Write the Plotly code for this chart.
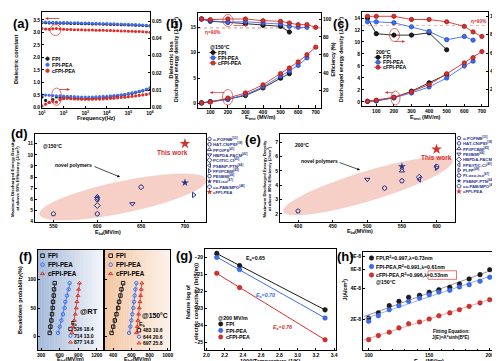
import numpy as np
import plotly.graph_objects as go

W, H = 500, 361
FONT = "Liberation Sans, Arial, Helvetica, sans-serif"
BLK, BLU, RED = "#1c1c1c", "#3e6ef0", "#d8302b"
NAVY = "#26338c"
SERIES = ["FPI", "FPI-PEA", "cFPI-PEA"]

# ---------------- DATA ----------------
# (a) dielectric spectra
freq = [10, 14.7, 21.5, 31.6, 46.4, 68.1, 100, 147, 215, 316, 464, 681,
        1e3, 1.47e3, 2.15e3, 3.16e3, 4.64e3, 6.81e3, 1e4, 1.47e4, 2.15e4,
        3.16e4, 4.64e4, 6.81e4, 1e5, 1.47e5, 2.15e5, 3.16e5, 4.64e5, 6.81e5, 1e6]
eps_fpi = [3.38, 3.38, 3.37, 3.37, 3.37, 3.36, 3.36, 3.36, 3.35, 3.35, 3.35, 3.34, 3.34, 3.34, 3.33, 3.33,
           3.33, 3.32, 3.32, 3.31, 3.31, 3.31, 3.30, 3.30, 3.29, 3.29, 3.28, 3.28, 3.27, 3.26, 3.25]
eps_pea = [3.41, 3.41, 3.40, 3.40, 3.40, 3.39, 3.39, 3.39, 3.38, 3.38, 3.38, 3.37, 3.37, 3.37, 3.36, 3.36,
           3.35, 3.35, 3.35, 3.34, 3.34, 3.33, 3.33, 3.32, 3.32, 3.31, 3.31, 3.30, 3.29, 3.28, 3.27]
eps_cfpi = [3.15, 3.13, 3.12, 3.14, 3.15, 3.13, 3.12, 3.11, 3.11, 3.10, 3.10, 3.10, 3.09, 3.09, 3.09, 3.08,
            3.08, 3.08, 3.07, 3.07, 3.06, 3.06, 3.05, 3.05, 3.04, 3.04, 3.03, 3.03, 3.02, 3.01, 3.00]
loss_fpi = [0.0060, 0.0040, 0.0028, 0.0045, 0.0060, 0.0055, 0.0058, 0.0056, 0.0054, 0.0053, 0.0052, 0.0051,
            0.0051, 0.0051, 0.0052, 0.0053, 0.0054, 0.0056, 0.0058, 0.0060, 0.0063, 0.0066, 0.0069, 0.0073,
            0.0077, 0.0081, 0.0086, 0.0091, 0.0096, 0.0102, 0.0108]
loss_pea = [0.0072, 0.0071, 0.0070, 0.0068, 0.0067, 0.0066, 0.0065, 0.0064, 0.0063, 0.0062, 0.0061, 0.0060,
            0.0060, 0.0060, 0.0060, 0.0061, 0.0062, 0.0063, 0.0064, 0.0066, 0.0068, 0.0070, 0.0073, 0.0076,
            0.0080, 0.0084, 0.0088, 0.0093, 0.0099, 0.0106, 0.0114]
loss_cfpi = [0.0008, 0.0018, 0.0028, 0.0035, 0.0030, 0.0045, 0.0050, 0.0052, 0.0050, 0.0049, 0.0048, 0.0047,
             0.0047, 0.0047, 0.0047, 0.0048, 0.0048, 0.0049, 0.0050, 0.0052, 0.0053, 0.0055, 0.0057, 0.0059,
             0.0061, 0.0064, 0.0066, 0.0069, 0.0072, 0.0075, 0.0079]

# (b) 150 C energy storage
b_E_fpi = [50, 100, 200, 300, 400, 500, 550]
b_U_fpi = [0.15, 0.4, 0.9, 1.6, 3.1, 5.0, 5.9]
b_eta_fpi = [100, 97.4, 96.3, 94.8, 92.9, 91.8, 85.5]
b_E_pea = [50, 100, 200, 300, 400, 500, 550, 600, 650]
b_U_pea = [0.15, 0.4, 0.8, 1.8, 3.3, 5.4, 6.4, 7.5, 9.0]
b_eta_pea = [100, 98, 96.5, 97, 95.5, 94.4, 91.8, 90.7, 90.7]
b_E_cfpi = [50, 100, 200, 300, 400, 500, 550, 600, 650, 700]
b_U_cfpi = [0.15, 0.3, 1.1, 2.1, 3.7, 5.9, 7.0, 8.2, 9.6, 11.1]
b_eta_cfpi = [100, 99.3, 100, 100, 98.1, 97.4, 95.5, 93.7, 93.7, 90.7]

# (c) 200 C energy storage
c_E_fpi = [50, 100, 200, 300, 400, 500]
c_U_fpi = [0.1, 0.2, 0.7, 1.8, 3.2, 4.6]
c_eta_fpi = [98, 81, 79.5, 79.5, 82, 63.5]
c_E_pea = [50, 100, 200, 300, 400, 500, 600, 650]
c_U_pea = [0.1, 0.2, 0.7, 1.5, 2.5, 4.0, 6.0, 6.8]
c_eta_pea = [94, 94, 93, 88.5, 83.5, 74.5, 78, 74]
c_E_cfpi = [50, 100, 200, 300, 400, 500, 600, 650, 700]
c_U_cfpi = [0.1, 0.3, 0.8, 1.7, 2.9, 4.7, 6.5, 7.4, 8.4]
c_eta_cfpi = [100, 100, 100, 96.5, 96.5, 94, 89, 83, 78]
eta_ref = 90

# (d) comparison at 150 C
d_names = ["o-POFNB<sup>[33]</sup>", "HAT-CN/PEI<sup>[38]</sup>", "PPO/PS<sup>[41]</sup>",
           "HBPDA-PACM<sup>[42]</sup>", "PC/ITIC-Cl<sup>[43]</sup>", "PSBNP-PTN<sup>[44]</sup>",
           "FPI/PCBM<sup>[45]</sup>", "PEI/BMI<sup>[46]</sup>", "PEI-iso<sup>[47]</sup>",
           "co-PAB/MPO<sup>[48]</sup>", "cFPI-PEA"]
d_E = [550, 600, 600, 640, 600, 600, 710, 600, 700, 650, 700]
d_U = [4.7, 4.7, 6.25, 5.6, 5.45, 6.1, 6.4, 6.0, 7.5, 7.1, 11.0]

# (e) comparison at 200 C
e_names = ["o-POFNB<sup>[33]</sup>", "HAT-CN/PEI<sup>[38]</sup>", "FPI/PCBM<sup>[45]</sup>",
           "PEI/BMI<sup>[46]</sup>", "HBPDA-PACM<sup>[42]</sup>", "FPE/ITIC-Cl<sup>[43]</sup>",
           "PI-FP<sup>[49]</sup>", "PI-oxo-iso<sup>[47]</sup>", "PSBNP-PTN<sup>[44]</sup>",
           "co-PAB/MPO<sup>[48]</sup>", "cFPI-PEA"]
e_E = [400, 525, 550, 500, 575, 575, 600, 550, 550, 600, 600]
e_U = [2.2, 3.8, 5.0, 4.4, 4.55, 4.4, 5.2, 4.3, 5.3, 5.3, 6.5]

# (f) Weibull breakdown
f_prob = [6, 17, 28, 39, 50, 61, 72, 83, 94]
f_rt = {"FPI": [439, 450, 466, 477, 487, 493, 504, 509, 520],
        "FPI-PEA": [573, 600, 627, 654, 680, 691, 718, 745, 761],
        "cFPI-PEA": [798, 814, 836, 852, 868, 879, 895, 905, 921]}
f_ht = {"FPI": [382, 400, 418, 436, 455, 465, 480, 491, 509],
        "FPI-PEA": [575, 589, 600, 611, 622, 629, 636, 644, 655],
        "cFPI-PEA": [655, 665, 673, 680, 687, 695, 702, 709, 716]}
f_rt_Eb, f_rt_beta = [526, 714, 877], [18.4, 13.0, 14.8]
f_ht_Eb, f_ht_beta = [483, 644, 697], [10.6, 20.6, 25.8]

# (g) Arrhenius conduction
g_x = [2.114, 2.364, 3.300]
g_y = {"FPI": [-19.77, -20.49, -23.09],
       "FPI-PEA": [-20.0, -20.72, -23.57],
       "cFPI-PEA": [-20.94, -21.78, -24.85]}
g_Ea = [0.65, 0.70, 0.76]

# (h) hopping conduction
h_E = [100, 108, 117, 125, 133, 142, 150, 158, 167, 175, 183, 192, 200]
h_J = {"FPI": [2.07e-8, 2.32e-8, 2.72e-8, 2.99e-8, 3.27e-8, 3.41e-8, 3.65e-8, 3.86e-8, 4.07e-8, 4.38e-8,
               4.89e-8, 5.37e-8, 5.99e-8],
       "FPI-PEA": [1.93e-8, 2.18e-8, 2.49e-8, 2.72e-8, 2.99e-8, 3.22e-8, 3.46e-8, 3.67e-8, 3.81e-8, 4.10e-8,
                   4.31e-8, 4.65e-8, 5.07e-8],
       "cFPI-PEA": [1.29e-8, 1.41e-8, 1.52e-8, 1.67e-8, 1.83e-8, 1.90e-8, 2.03e-8, 2.18e-8, 2.32e-8, 2.49e-8,
                    2.68e-8, 2.89e-8, 3.10e-8]}
h_R2 = [0.997, 0.991, 0.996]
h_lam = [0.73, 0.61, 0.53]

# ---------------- STYLE ----------------
COL = {"FPI": BLK, "FPI-PEA": BLU, "cFPI-PEA": RED}
DARK = {"FPI": "#000000", "FPI-PEA": "#1f47c8", "cFPI-PEA": "#a01818"}
LIGHTLINE = {"FPI": "#8a8a8a", "FPI-PEA": "#8fa9f2", "cFPI-PEA": "#ec9a96"}
FSYM = {"FPI": "square-open", "FPI-PEA": "circle-open", "cFPI-PEA": "triangle-up-open"}
d_sym = ["pentagon-open", "hexagon-open", "triangle-up-open", "triangle-down-open", "diamond-open",
         "triangle-left-open", "triangle-right-open", "hexagon2-open", "star", "octagon-open", "star"]
e_sym = ["pentagon-open", "hexagon-open", "triangle-up-open", "triangle-down-open", "diamond-open",
         "triangle-left-open", "triangle-right-open", "hexagon2-open", "star", "octagon-open", "star"]

# ---------------- HELPERS ----------------
fig = go.Figure()
axes, ann, shp = {}, [], []
cnt = {"x": 0, "y": 0}


def nid(k):
    cnt[k] += 1
    return "" if cnt[k] == 1 else str(cnt[k])


BASE = dict(showline=True, linecolor="black", linewidth=0.8, mirror=True,
            ticks="inside", ticklen=2.5, tickwidth=0.7, tickcolor="black",
            showgrid=False, zeroline=False, automargin=False,
            tickfont=dict(size=5, family=FONT, color="black", weight="bold"))


def panel(box, xr, yr, xkw=None, ykw=None):
    x0, y0, x1, y1 = box
    xs, ys = nid("x"), nid("y")
    xa = dict(BASE, domain=[x0 / W, x1 / W], range=xr, anchor="y" + ys)
    ya = dict(BASE, domain=[1 - y1 / H, 1 - y0 / H], range=yr, anchor="x" + xs)
    if xkw:
        xa.update(xkw)
    if ykw:
        ya.update(ykw)
    axes["xaxis" + xs] = xa
    axes["yaxis" + ys] = ya
    return "x" + xs, "y" + ys


def right_y(xn, yn, yr, ykw=None):
    ys = nid("y")
    ya = dict(BASE, range=yr, overlaying=yn, side="right", anchor=xn, mirror=False)
    if ykw:
        ya.update(ykw)
    axes["yaxis" + ys] = ya
    return "y" + ys


def T(x, y, s, size=5, color="black", xa="left", ya="middle", angle=0, italic=False):
    ann.append(dict(x=x, y=y, xref="x", yref="y", text=s, showarrow=False,
                    xanchor=xa, yanchor=ya, textangle=angle, borderpad=0, borderwidth=0,
                    font=dict(family=FONT, size=size, color=color, weight="bold",
                              style="italic" if italic else "normal")))


def ARROW(x0, y0, x1, y1, color="black", width=0.8, size=1.0):
    ann.append(dict(x=x1, y=y1, ax=x0, ay=y0, xref="x", yref="y", axref="x", ayref="y",
                    text="", showarrow=True, arrowhead=2, arrowsize=size, arrowwidth=width,
                    arrowcolor=color))


def ELL(x0, y0, x1, y1, color=RED, width=0.7):
    shp.append(dict(type="circle", xref="x", yref="y", x0=x0, y0=y0, x1=x1, y1=y1,
                    line=dict(color=color, width=width)))


def rot_ellipse(cx, cy, a, b, ang):
    t = np.linspace(0, 2 * np.pi, 72)
    c, s = np.cos(np.radians(ang)), np.sin(np.radians(ang))
    xs = cx + a * np.cos(t) * c - b * np.sin(t) * s
    ys = cy + a * np.cos(t) * s + b * np.sin(t) * c
    return "M " + " L ".join(f"{x:.2f},{y:.2f}" for x, y in zip(xs, ys)) + " Z"


def mix(c1, c2, t):
    a = [int(c1[i:i + 2], 16) for i in (1, 3, 5)]
    b = [int(c2[i:i + 2], 16) for i in (1, 3, 5)]
    return "#" + "".join(f"{int(round(p + (q - p) * t)):02x}" for p, q in zip(a, b))


def gradient(x0, y0, x1, y1, c1, c2, n=40):
    for i in range(n):
        shp.append(dict(type="rect", xref="x", yref="y", layer="below",
                        x0=x0 + (x1 - x0) * i / n, x1=x0 + (x1 - x0) * (i + 1) / n + 0.3,
                        y0=y0, y1=y1, line=dict(width=0), fillcolor=mix(c1, c2, i / (n - 1))))


# aux axes spanning the whole page in pixel units (for legends / notes)
AX, AY = panel((0, 0, W, H), [0, W], [H, 0], xkw=dict(visible=False), ykw=dict(visible=False))


def icon(x, y, color, symbol="circle", size=4, lw=0.8, mline=None, seg=0, segw=0.9):
    if seg:
        fig.add_trace(go.Scatter(x=[x - seg, x + seg], y=[y, y], mode="lines",
                                 line=dict(color=color, width=segw), xaxis=AX, yaxis=AY,
                                 hoverinfo="skip"))
    fig.add_trace(go.Scatter(x=[x], y=[y], mode="markers", xaxis=AX, yaxis=AY, hoverinfo="skip",
                             marker=dict(symbol=symbol, size=size, color=color,
                                         line=dict(color=mline or color, width=lw))))


# ================= (a) =================
xa_, ya_ = panel((34, 4, 142, 100), [1, 6], [-0.03, 3.81],
                 xkw=dict(type="log", tickvals=[10 ** k for k in range(1, 7)],
                          ticktext=[f"10<sup>{k}</sup>" for k in range(1, 7)]),
                 ykw=dict(tick0=0, dtick=0.5, tickformat=".1f"))
ya2 = right_y(xa_, ya_, [-0.0004, 0.0554], ykw=dict(tick0=0, dtick=0.01, tickformat=".2f"))
for name, eps, loss in zip(SERIES, [eps_fpi, eps_pea, eps_cfpi], [loss_fpi, loss_pea, loss_cfpi]):
    fig.add_trace(go.Scatter(x=freq, y=eps, mode="markers", xaxis=xa_, yaxis=ya_,
                             marker=dict(size=3.2, color=COL[name], line=dict(width=0))))
    fig.add_trace(go.Scatter(x=freq, y=loss, mode="markers", xaxis=xa_, yaxis=ya2,
                             marker=dict(size=3.2, color=COL[name], line=dict(width=0))))
for i, name in enumerate(SERIES):
    icon(39.5, 50.7 + 6 * i, COL[name], size=3.5)
    T(43.5, 50.7 + 6 * i, name, size=5.2)
ELL(42, 16.5, 53, 27.5)
ARROW(53, 10.5, 37, 10.5, color=RED, width=0.8, size=0.8)
ELL(43.5, 80, 53.5, 97.5)
ARROW(50, 81.5, 62, 81.5, color=RED, width=0.8, size=0.8)
T(88, 109.5, "Frequency(Hz)", size=5.5, xa="center")
T(8, 52, "Dielectric constant", size=5.5, xa="center", angle=-90)
T(162.5, 52, "Dielectric loss", size=5.5, xa="center", angle=-90)

# ================= (b) =================
xb, yb = panel((190, 5, 313, 99.5), [30, 730], [-0.75, 17.8],
               xkw=dict(tickvals=[100, 200, 300, 400, 500, 600, 700]),
               ykw=dict(tickvals=[0, 5, 10, 15]))
yb2 = right_y(xb, yb, [1.2, 106.7], ykw=dict(tickvals=[20, 40, 60, 80, 100]))
fig.add_trace(go.Scatter(x=[30, 730], y=[eta_ref, eta_ref], mode="lines", xaxis=xb, yaxis=yb2,
                         line=dict(color="#e36a66", width=0.8, dash="dot")))
for name, E, U, eta in zip(SERIES, [b_E_fpi, b_E_pea, b_E_cfpi], [b_U_fpi, b_U_pea, b_U_cfpi],
                           [b_eta_fpi, b_eta_pea, b_eta_cfpi]):
    mk = dict(size=4.3, color=COL[name], line=dict(color=DARK[name], width=0.8))
    fig.add_trace(go.Scatter(x=E, y=U, mode="lines+markers", xaxis=xb, yaxis=yb,
                             line=dict(color=COL[name], width=0.9), marker=mk))
    fig.add_trace(go.Scatter(x=E, y=eta, mode="lines+markers", xaxis=xb, yaxis=yb2,
                             line=dict(color=COL[name], width=0.9), marker=mk))
T(202, 39.3, "@150°C", size=5.2)
for i, name in enumerate(SERIES):
    icon(205, 44.5 + 5.3 * i, COL[name], size=4, mline=DARK[name], seg=3.5)
    T(210, 44.5 + 5.3 * i, name, size=5.2)
T(197, 24, "η=90%", size=4.8, color=RED)
ELL(215, 6.5, 225, 18.5)
ARROW(224, 17.5, 240, 17.5, color=RED, width=0.7, size=0.8)
ELL(214.5, 81.5, 225, 97)
ARROW(218, 84.5, 202, 84.5, color=RED, width=0.7, size=0.8)
T(252, 109.5, "E<sub>test</sub> (MV/m)", size=5.5, xa="center")
T(168, 52, "Discharged energy density (J/cm<sup>3</sup>)", size=5.2, xa="center", angle=-90)
T(324.5, 52, "Efficiency (%)", size=5.2, xa="center", angle=-90)

# ================= (c) =================
xc, yc = panel((354, 4, 480, 98.3), [18.8, 734.7], [-0.72, 15],
               xkw=dict(tickvals=[100, 200, 300, 400, 500, 600, 700]),
               ykw=dict(tickvals=list(range(0, 15, 2))))
yc2 = right_y(xc, yc, [1.9, 104.7], ykw=dict(tickvals=[20, 40, 60, 80, 100]))
fig.add_trace(go.Scatter(x=[18.8, 734.7], y=[eta_ref, eta_ref], mode="lines", xaxis=xc, yaxis=yc2,
                         line=dict(color="#f0a09c", width=0.8, dash="dot")))
for name, E, U, eta in zip(SERIES, [c_E_fpi, c_E_pea, c_E_cfpi], [c_U_fpi, c_U_pea, c_U_cfpi],
                           [c_eta_fpi, c_eta_pea, c_eta_cfpi]):
    mk = dict(size=4.3, color=COL[name], line=dict(color=DARK[name], width=0.8))
    fig.add_trace(go.Scatter(x=E, y=U, mode="lines+markers", xaxis=xc, yaxis=yc,
                             line=dict(color=COL[name], width=0.9), marker=mk))
    fig.add_trace(go.Scatter(x=E, y=eta, mode="lines+markers", xaxis=xc, yaxis=yc2,
                             line=dict(color=COL[name], width=0.9), marker=mk))
T(367.5, 44.3, "200°C", size=5.2)
for i, name in enumerate(SERIES):
    icon(370, 49.3 + 5 * i, COL[name], size=4, mline=DARK[name], seg=3.5)
    T(375, 49.3 + 5 * i, name, size=5.2)
T(462.5, 13.3, "η=90%", size=4.8, color=RED)
ELL(381.5, 20.5, 391.5, 33.5)
ARROW(385, 33.5, 397, 33.5, color=RED, width=0.7, size=0.8)
ELL(383, 83, 392, 97)
ARROW(387, 84.5, 377, 84.5, color=RED, width=0.7, size=0.8)
T(417, 109, "E<sub>test</sub> (MV/m)", size=5.5, xa="center")
T(333, 52, "Discharged energy density (J/cm<sup>3</sup>)", size=5.2, xa="center", angle=-90)
T(493.5, 52, "Efficiency (%)", size=4.9, xa="center", angle=-90)

# ================= (d) =================
shp.append(dict(type="path", xref="x", yref="y", layer="below",
                path=rot_ellipse(115, 189, 85, 15.5, -11.7), fillcolor="#f6d0c7",
                line=dict(color="#f0bfb4", width=0.5)))
xd, yd = panel((27, 126, 198, 214), [529, 724], [3.97, 11.87],
               xkw=dict(tickvals=[550, 600, 650, 700], ticklabelstandoff=-1),
               ykw=dict(tickvals=list(range(4, 12))))
for i in range(len(d_E)):
    last = i == len(d_E) - 1
    c = RED if last else NAVY
    fig.add_trace(go.Scatter(x=[d_E[i]], y=[d_U[i]], mode="markers", xaxis=xd, yaxis=yd,
                             marker=dict(symbol=d_sym[i], size=8 if last else (6 if "star" in d_sym[i] else 4.6),
                                         color=c, line=dict(color=c, width=1.0 if "open" in d_sym[i] else 0))))
    icon(201.5, 131 + 5.3 * i, c, symbol=d_sym[i], size=4.5 if last else 3.8,
         lw=0.9 if "open" in d_sym[i] else 0)
    T(205, 131 + 5.3 * i, d_names[i], size=4.3, color=NAVY)
T(35, 137.7, "@150°C", size=5)
T(164, 144, "This work", size=6.5, color=RED, xa="center")
T(65, 156.7, "novel polymers", size=5, xa="center")
ARROW(85, 158, 112, 169, width=0.7, size=0.8)
T(100, 224.5, "E<sub>bd</sub>(MV/m)", size=5.3, xa="center")
T(4, 170, "Maximum Discharged Energy Density", size=4.3, xa="center", angle=-90)
T(9.5, 170, "at above 90% Efficiency (J/cm<sup>3</sup>)", size=4.3, xa="center", angle=-90)

# ================= (e) =================
shp.append(dict(type="path", xref="x", yref="y", layer="below",
                path=rot_ellipse(360, 178, 88, 14.5, -16.8), fillcolor="#f6d0c7",
                line=dict(color="#f0bfb4", width=0.5)))
xe, ye = panel((272, 126, 447, 214), [374, 626.6], [1.44, 7.56],
               xkw=dict(tickvals=[400, 450, 500, 550, 600], ticklabelstandoff=-1),
               ykw=dict(tickvals=[2, 3, 4, 5, 6, 7]))
for i in range(len(e_E)):
    last = i == len(e_E) - 1
    c = RED if last else NAVY
    fig.add_trace(go.Scatter(x=[e_E[i]], y=[e_U[i]], mode="markers", xaxis=xe, yaxis=ye,
                             marker=dict(symbol=e_sym[i], size=8 if last else (6 if "star" in e_sym[i] else 4.6),
                                         color=c, line=dict(color=c, width=1.0 if "open" in e_sym[i] else 0))))
    icon(451, 130 + 5.35 * i, c, symbol=e_sym[i], size=4.5 if last else 3.8,
         lw=0.9 if "open" in e_sym[i] else 0)
    T(455, 130 + 5.35 * i, e_names[i], size=4.3, color=NAVY)
T(287, 136.7, "200°C", size=5)
T(428, 149, "This work", size=6.5, color=RED, xa="center")
T(311, 152.7, "novel polymers", size=5, xa="center")
ARROW(330, 154, 352, 162, width=0.7, size=0.8)
T(352, 223.5, "E<sub>bd</sub>(MV/m)", size=5.3, xa="center")
T(255.5, 171, "Maximum Discharged Energy Density", size=4.3, xa="center", angle=-90)
T(261, 171, "at above 90% Efficiency (J/cm<sup>3</sup>)", size=4.3, xa="center", angle=-90)

# ================= (f) =================
gradient(30, 242, 95, 342, "#a3b8d8", "#f2f5f9")
gradient(97, 242, 162, 342, "#f3c6a3", "#fcf1e8")
xf1, yf1 = panel((30, 242, 95, 342), [250, 1300], [-24.2, 152.5],
                 xkw=dict(tickvals=[300, 600, 900, 1200]), ykw=dict(tickvals=[0, 50, 100]))
xf2, yf2 = panel((97, 242, 162, 342), [310, 1025], [-24.2, 152.5],
                 xkw=dict(tickvals=[400, 600, 800, 1000]),
                 ykw=dict(tickvals=[0, 50, 100], showticklabels=False))
for (xn, yn, dat) in [(xf1, yf1, f_rt), (xf2, yf2, f_ht)]:
    for name in SERIES:
        k, b0 = np.polyfit(f_prob, dat[name], 1)
        p_end = [min(f_prob), max(f_prob)]
        fig.add_trace(go.Scatter(x=[k * p + b0 for p in p_end], y=p_end, mode="lines",
                                 xaxis=xn, yaxis=yn, line=dict(color=COL[name], width=0.8)))
        fig.add_trace(go.Scatter(x=dat[name], y=f_prob, mode="markers", xaxis=xn, yaxis=yn,
                                 marker=dict(symbol=FSYM[name], size=3.4, color=COL[name],
                                             line=dict(color=COL[name], width=1.0))))
for i, name in enumerate(SERIES):
    for mx, tx in [(34.5, 40), (102.7, 107.5)]:
        icon(mx, 247.7 + 9 * i, COL[name], symbol=FSYM[name], size=3.6, lw=1.0)
        T(tx, 247.7 + 9 * i, name, size=6.3)
T(80.5, 303.3, "@RT", size=7.5, xa="center")
T(147, 307.7, "@150°C", size=6.8, xa="center")
T(63, 315.5, "E<sub>b</sub>", size=5.3)
T(131, 316.5, "E<sub>b</sub>", size=5.3)
for i, name in enumerate(SERIES):
    icon(62.5, 321 + 6.6 * i, COL[name], symbol=FSYM[name], size=3.4, lw=1.0)
    T(66, 321 + 6.6 * i, f"{f_rt_Eb[i]} {f_rt_beta[i]:.1f}", size=5)
    icon(131, 322.3 + 6.4 * i, COL[name], symbol=FSYM[name], size=3.4, lw=1.0)
    T(135, 322.3 + 6.4 * i, f"{f_ht_Eb[i]} {f_ht_beta[i]:.1f}", size=5)
T(12, 292, "Breakdown probability(%)", size=5.5, xa="center", angle=-90)
T(62.5, 351.8, "E<sub>bd</sub>(MV/m)", size=5.5, xa="center")
T(129.5, 351.8, "E<sub>bd</sub>(MV/m)", size=5.5, xa="center")

# ================= (g) =================
xg, yg = panel((197, 241, 328, 342), [1.985, 3.42], [-25.45, -19.51],
               xkw=dict(tickvals=[2.0, 2.2, 2.4, 2.6, 2.8, 3.0, 3.2, 3.4], tickformat=".1f"),
               ykw=dict(tickvals=[-25, -24, -23, -22, -21, -20]))
for name in SERIES:
    k, b0 = np.polyfit(g_x, g_y[name], 1)
    xe_ = [min(g_x), max(g_x)]
    fig.add_trace(go.Scatter(x=xe_, y=[k * v + b0 for v in xe_], mode="lines", xaxis=xg, yaxis=yg,
                             line=dict(color=COL[name], width=1)))
    fig.add_trace(go.Scatter(x=g_x, y=g_y[name], mode="markers", xaxis=xg, yaxis=yg,
                             marker=dict(size=4.6, color=COL[name], line=dict(color=DARK[name], width=0.5))))
T(238, 250, f"E<sub>a</sub>={g_Ea[0]:.2f}", size=5.3)
T(248, 287.3, f"E<sub>a</sub>={g_Ea[1]:.2f}", size=5.3, color=BLU, italic=True)
T(265, 319, f"E<sub>a</sub>={g_Ea[2]:.2f}", size=5.3, color=RED, italic=True)
T(210, 309.5, "@200 MV/m", size=5.3)
for i, name in enumerate(SERIES):
    icon(212.7, 316 + 6.5 * i, COL[name], size=4.3, mline=DARK[name], lw=0.5)
    T(217.7, 316 + 6.5 * i, name, size=5.3)
T(180, 294, "Nature log of", size=5.5, xa="center", angle=-90)
T(188, 294, "electric conductivity (ln(S/m))", size=5.5, xa="center", angle=-90)
T(262.5, 353, "1000/Temperature (1/K)", size=5.5, xa="center")

# ================= (h) =================
xh, yh = panel((355, 244, 488, 342), [95.3, 205.2], [-7.988, -7.054],
               xkw=dict(tickvals=[100, 150, 200],
                        minor=dict(ticks="inside", ticklen=1.5, tickwidth=0.5, dtick=10, tickcolor="black")),
               ykw=dict(type="log", tickvals=[2e-8, 4e-8, 6e-8, 8e-8],
                        ticktext=["2E-8", "4E-8", "6E-8", "8E-8"]))
for name in SERIES:
    k, b0 = np.polyfit(h_E, np.log10(h_J[name]), 1)
    xe_ = [min(h_E) - 4, max(h_E) + 2]
    fig.add_trace(go.Scatter(x=xe_, y=[10 ** (k * v + b0) for v in xe_], mode="lines", xaxis=xh, yaxis=yh,
                             line=dict(color=LIGHTLINE[name], width=0.9)))
    fig.add_trace(go.Scatter(x=h_E, y=h_J[name], mode="markers", xaxis=xh, yaxis=yh,
                             marker=dict(size=4.6, color=COL[name], line=dict(color=DARK[name], width=0.5))))
for i, name in enumerate(SERIES):
    icon(363.5, 250 + 8.5 * i, COL[name], size=4.5, mline=DARK[name], lw=0.5)
    T(368.3, 250 + 8.5 * i, f"{name},R<sup>2</sup>={h_R2[i]:.3f},λ={h_lam[i]:.2f}nm", size=5.2)
T(368.3, 273.5, "@150°C", size=5.2)
shp.append(dict(type="rect", xref="x", yref="y", x0=420, x1=448.5, y0=262.8, y1=271.3,
                line=dict(color="#e0504a", width=0.8)))
T(443, 323.5, "Fitting Equation:", size=4.6, xa="center")
T(443, 329.5, "J(E)=A*sinh(B*E)", size=4.6, xa="center")
T(336.5, 282, "J(A/cm<sup>2</sup>)", size=5.3, xa="center", angle=-90)
T(421, 353, "E<sub>field</sub>(MV/m)", size=5.5, xa="center")

# ---------------- panel labels ----------------
for lab, x, y in [("(a)", 13, 15), ("(b)", 166, 15), ("(c)", 333, 15), ("(d)", 11, 125),
                  ("(e)", 245, 131), ("(f)", 17, 248), ("(g)", 176, 247), ("(h)", 337, 248)]:
    T(x, y, lab, size=13, xa="center")

fig.update_layout(width=W, height=H, margin=dict(l=0, r=0, t=0, b=0),
                  paper_bgcolor="white", plot_bgcolor="rgba(0,0,0,0)", showlegend=False,
                  font=dict(family=FONT, size=5, color="black", weight="bold"),
                  annotations=ann, shapes=shp, **axes)
fig.write_html("out.html")
